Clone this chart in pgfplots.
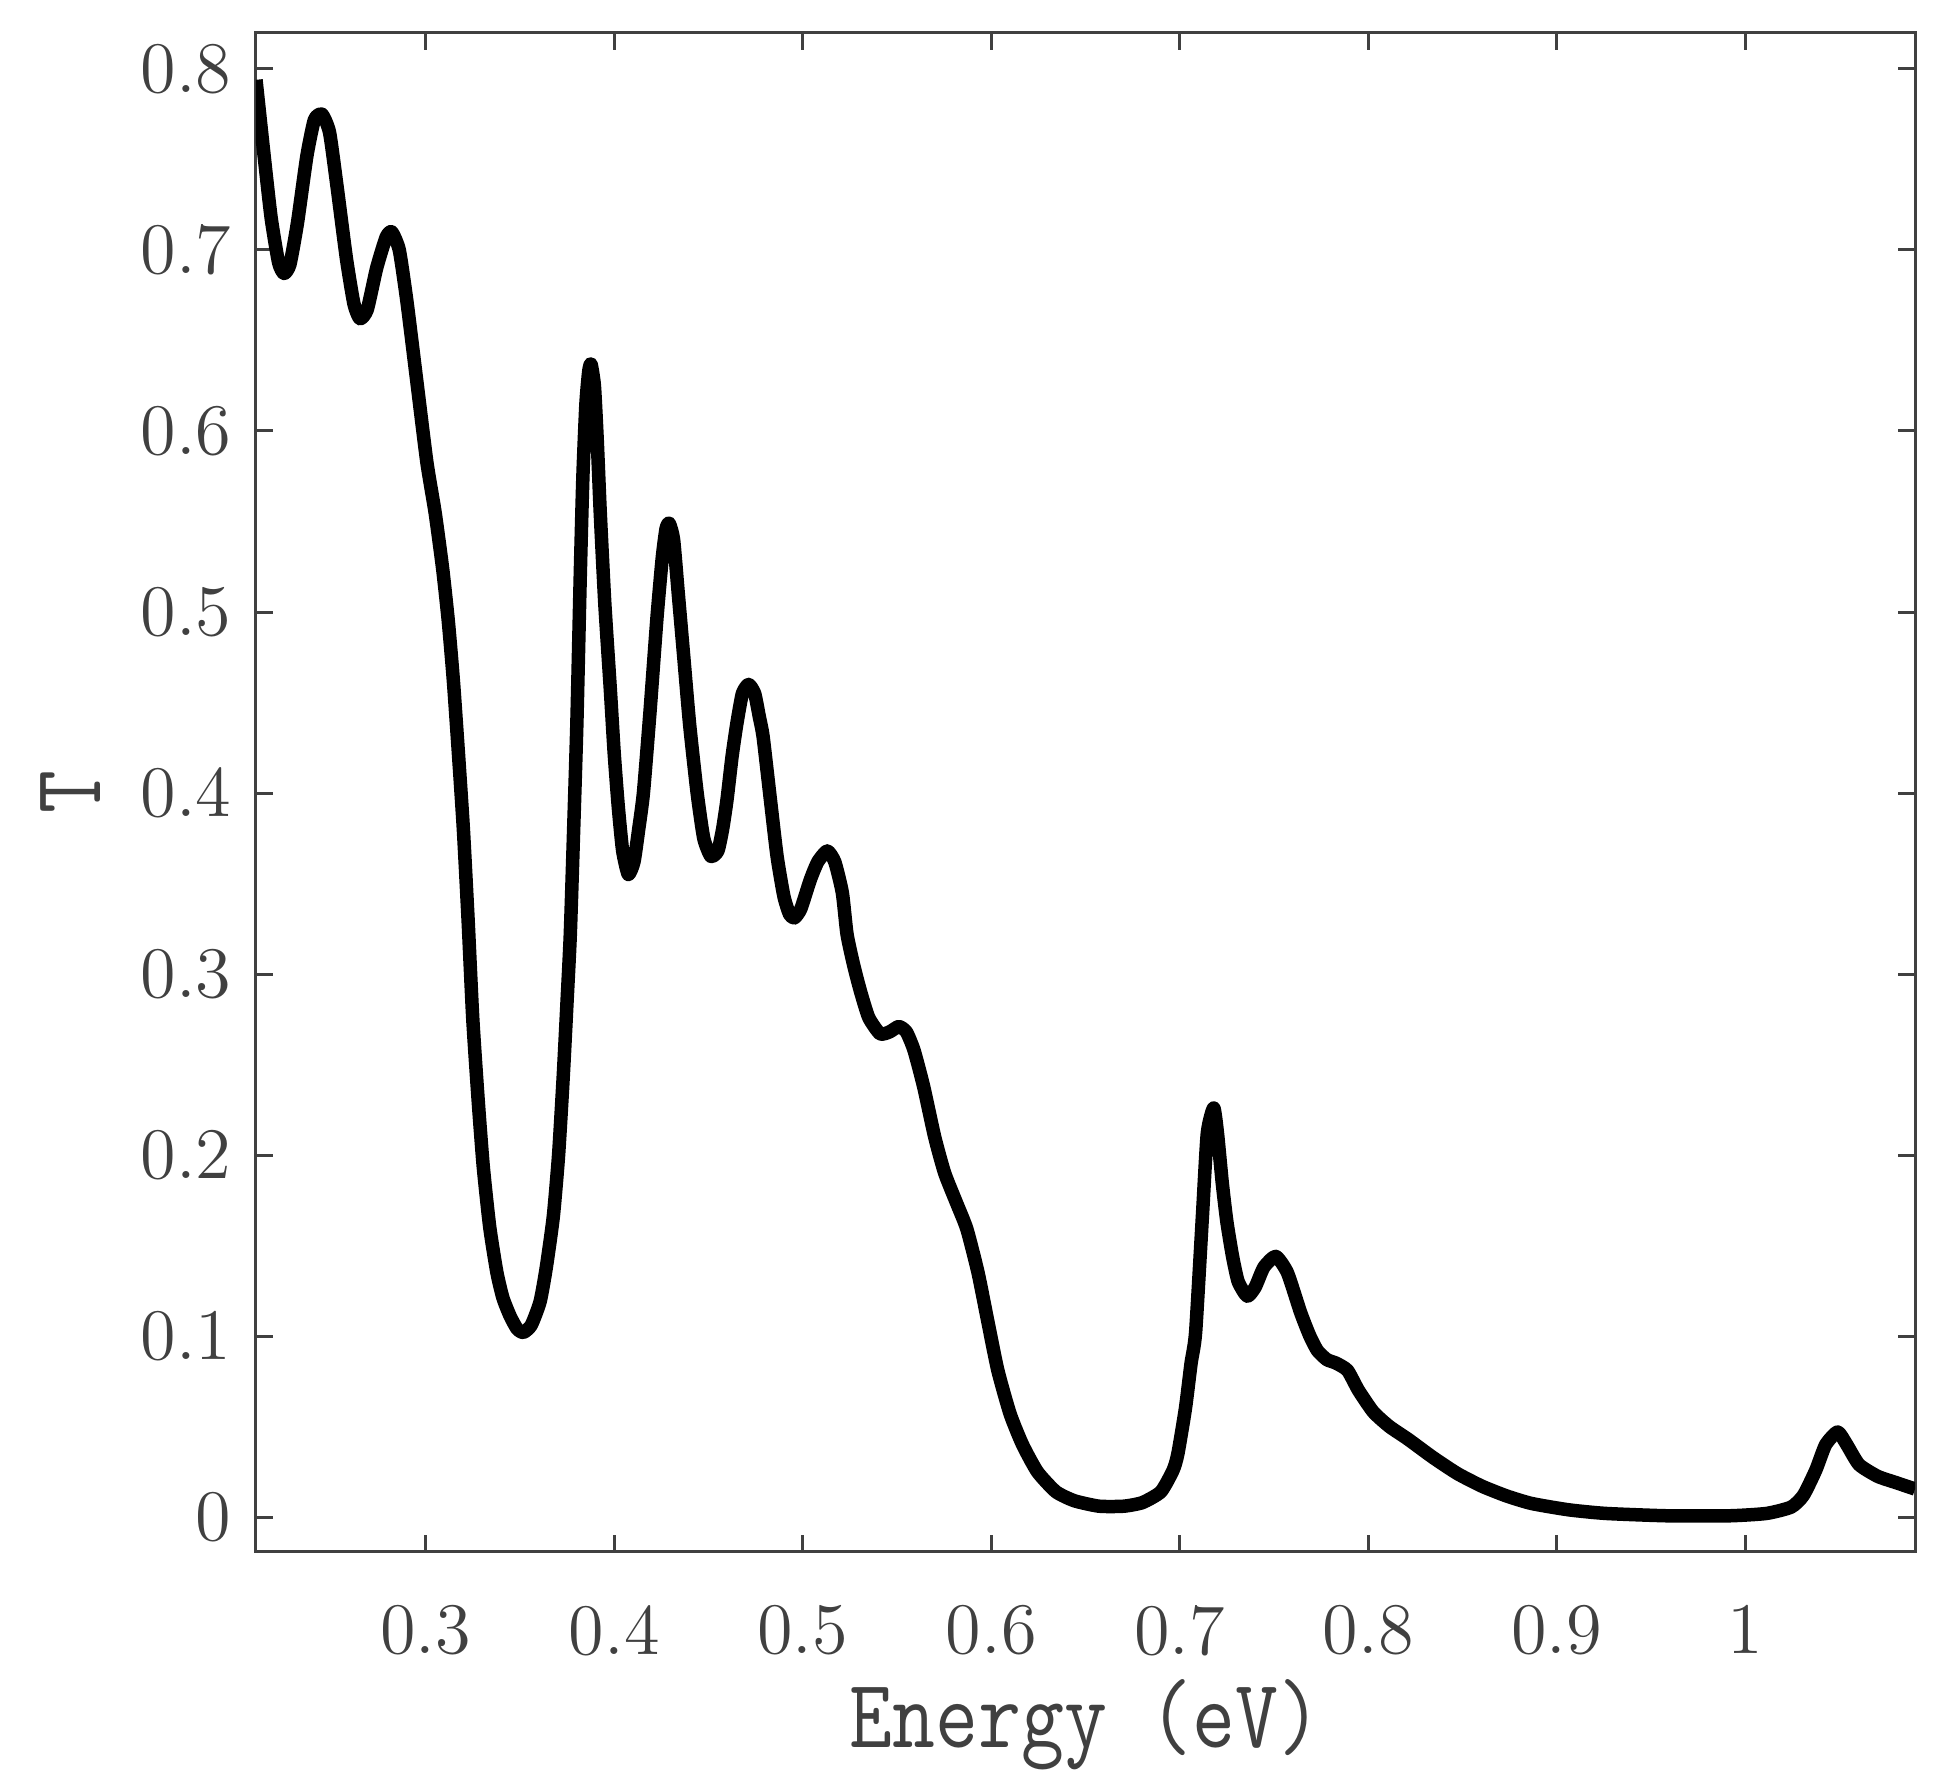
\documentclass[border=0pt]{standalone}
\usepackage{pgfplots}
\pgfplotsset{compat=1.18}
\definecolor{axgray}{HTML}{404040}
\pgfplotstableread{
x y
0.2100 0.794
0.2140 0.755
0.2180 0.718
0.2220 0.693
0.2249 0.687
0.2280 0.692
0.2320 0.715
0.2370 0.752
0.2410 0.772
0.2450 0.775
0.2490 0.765
0.2530 0.735
0.2580 0.695
0.2620 0.670
0.2652 0.662
0.2690 0.667
0.2740 0.690
0.2790 0.707
0.2820 0.710
0.2860 0.700
0.2900 0.672
0.2950 0.630
0.3006 0.583
0.3050 0.555
0.3090 0.524
0.3120 0.495
0.3147 0.462
0.3175 0.420
0.3200 0.380
0.3225 0.330
0.3250 0.275
0.3280 0.228
0.3306 0.193
0.3340 0.160
0.3378 0.135
0.3410 0.121
0.3448 0.111
0.3485 0.104
0.3518 0.102
0.3560 0.106
0.3607 0.119
0.3640 0.138
0.3677 0.166
0.3705 0.200
0.3730 0.244
0.3750 0.285
0.3767 0.3215
0.3785 0.380
0.3802 0.4386
0.3820 0.520
0.3834 0.575
0.3850 0.615
0.3865 0.633
0.3877 0.637
0.3895 0.625
0.3910 0.595
0.3926 0.555
0.3950 0.505
0.3979 0.458
0.4000 0.422
0.4022 0.392
0.4045 0.368
0.4075 0.355
0.4105 0.362
0.4130 0.380
0.4155 0.400
0.4190 0.445
0.4227 0.497
0.4255 0.530
0.4275 0.546
0.4292 0.549
0.4315 0.540
0.4340 0.510
0.4367 0.4776
0.4400 0.438
0.4440 0.400
0.4475 0.375
0.4513 0.365
0.4550 0.368
0.4575 0.380
0.4598 0.396
0.4625 0.420
0.4651 0.4386
0.4680 0.455
0.4713 0.460
0.4745 0.455
0.4770 0.442
0.4790 0.431
0.4830 0.395
0.4864 0.365
0.4900 0.343
0.4930 0.333
0.4956 0.331
0.4990 0.336
0.5040 0.352
0.5080 0.362
0.5130 0.368
0.5170 0.362
0.5210 0.345
0.5235 0.322
0.5270 0.305
0.5306 0.2906
0.5350 0.276
0.5410 0.267
0.5460 0.268
0.5510 0.271
0.5550 0.268
0.5590 0.258
0.5641 0.238
0.5700 0.210
0.5753 0.190
0.5818 0.173
0.5871 0.159
0.5930 0.135
0.5982 0.108
0.6035 0.081
0.6100 0.057
0.6166 0.040
0.6245 0.025
0.6343 0.014
0.6441 0.009
0.6572 0.006
0.6703 0.006
0.6802 0.008
0.6900 0.014
0.6965 0.026
0.6990 0.035
0.7030 0.060
0.7060 0.085
0.7084 0.102
0.7120 0.166
0.7146 0.212
0.7180 0.226
0.7200 0.212
0.7226 0.184
0.7250 0.163
0.7280 0.144
0.7310 0.130
0.7358 0.122
0.7400 0.127
0.7446 0.138
0.7509 0.144
0.7571 0.135
0.7641 0.113
0.7690 0.100
0.7730 0.092
0.7780 0.087
0.7830 0.085
0.7890 0.081
0.7948 0.070
0.8027 0.058
0.8112 0.050
0.8211 0.043
0.8342 0.033
0.8473 0.024
0.8604 0.017
0.8735 0.0116
0.8866 0.0075
0.9063 0.004
0.9260 0.002
0.9587 0.0007
0.9915 0.0007
1.0112 0.002
1.0243 0.0055
1.0308 0.012
1.0374 0.026
1.0426 0.040
1.0490 0.047
1.0538 0.040
1.0603 0.029
1.0702 0.0225
1.0800 0.019
1.0900 0.0155
}\datatable
\begin{document}
\begin{tikzpicture}
\path[use as bounding box] (-51.2pt,-44.4pt) rectangle (336pt,310.4pt);
\begin{axis}[
  at={(0,0)}, anchor=south west,
  scale only axis,
  width=331.8pt, height=303.8pt,
  xmin=0.21, xmax=1.09,
  ymin=-0.0193, ymax=0.8199,
  xtick={0.3,0.4,0.5,0.6,0.7,0.8,0.9,1},
  xticklabels={0.3,0.4,0.5,0.6,0.7,0.8,0.9,1},
  ytick={0,0.1,0.2,0.3,0.4,0.5,0.6,0.7,0.8},
  yticklabels={0,0.1,0.2,0.3,0.4,0.5,0.6,0.7,0.8},
  tick align=inside,
  major tick length=3.4pt,
  axis line style={axgray, line width=0.6pt},
  every tick/.style={axgray, line width=0.6pt},
  tick label style={font=\fontsize{14.5}{17}\selectfont, text=axgray},
  yticklabel style={xshift=-1.4pt},
  xticklabel style={yshift=-7.2pt},
  xlabel={\scalebox{0.85}[1]{\fontsize{19.6}{22}\selectfont\ttfamily Energy (eV)}},
  xlabel style={at={(axis description cs:0.5,-0.1284)}, anchor=base, text=axgray},
  ylabel={\scalebox{0.85}[1]{\fontsize{19.6}{22}\selectfont\ttfamily T}},
  ylabel style={at={(axis description cs:-0.1115,0.5)}, anchor=center, text=axgray},
]
\addplot[black, line width=2.7pt, line join=round, smooth, tension=0.35] table[x=x,y=y] {\datatable};
\end{axis}
\end{tikzpicture}
\end{document}
